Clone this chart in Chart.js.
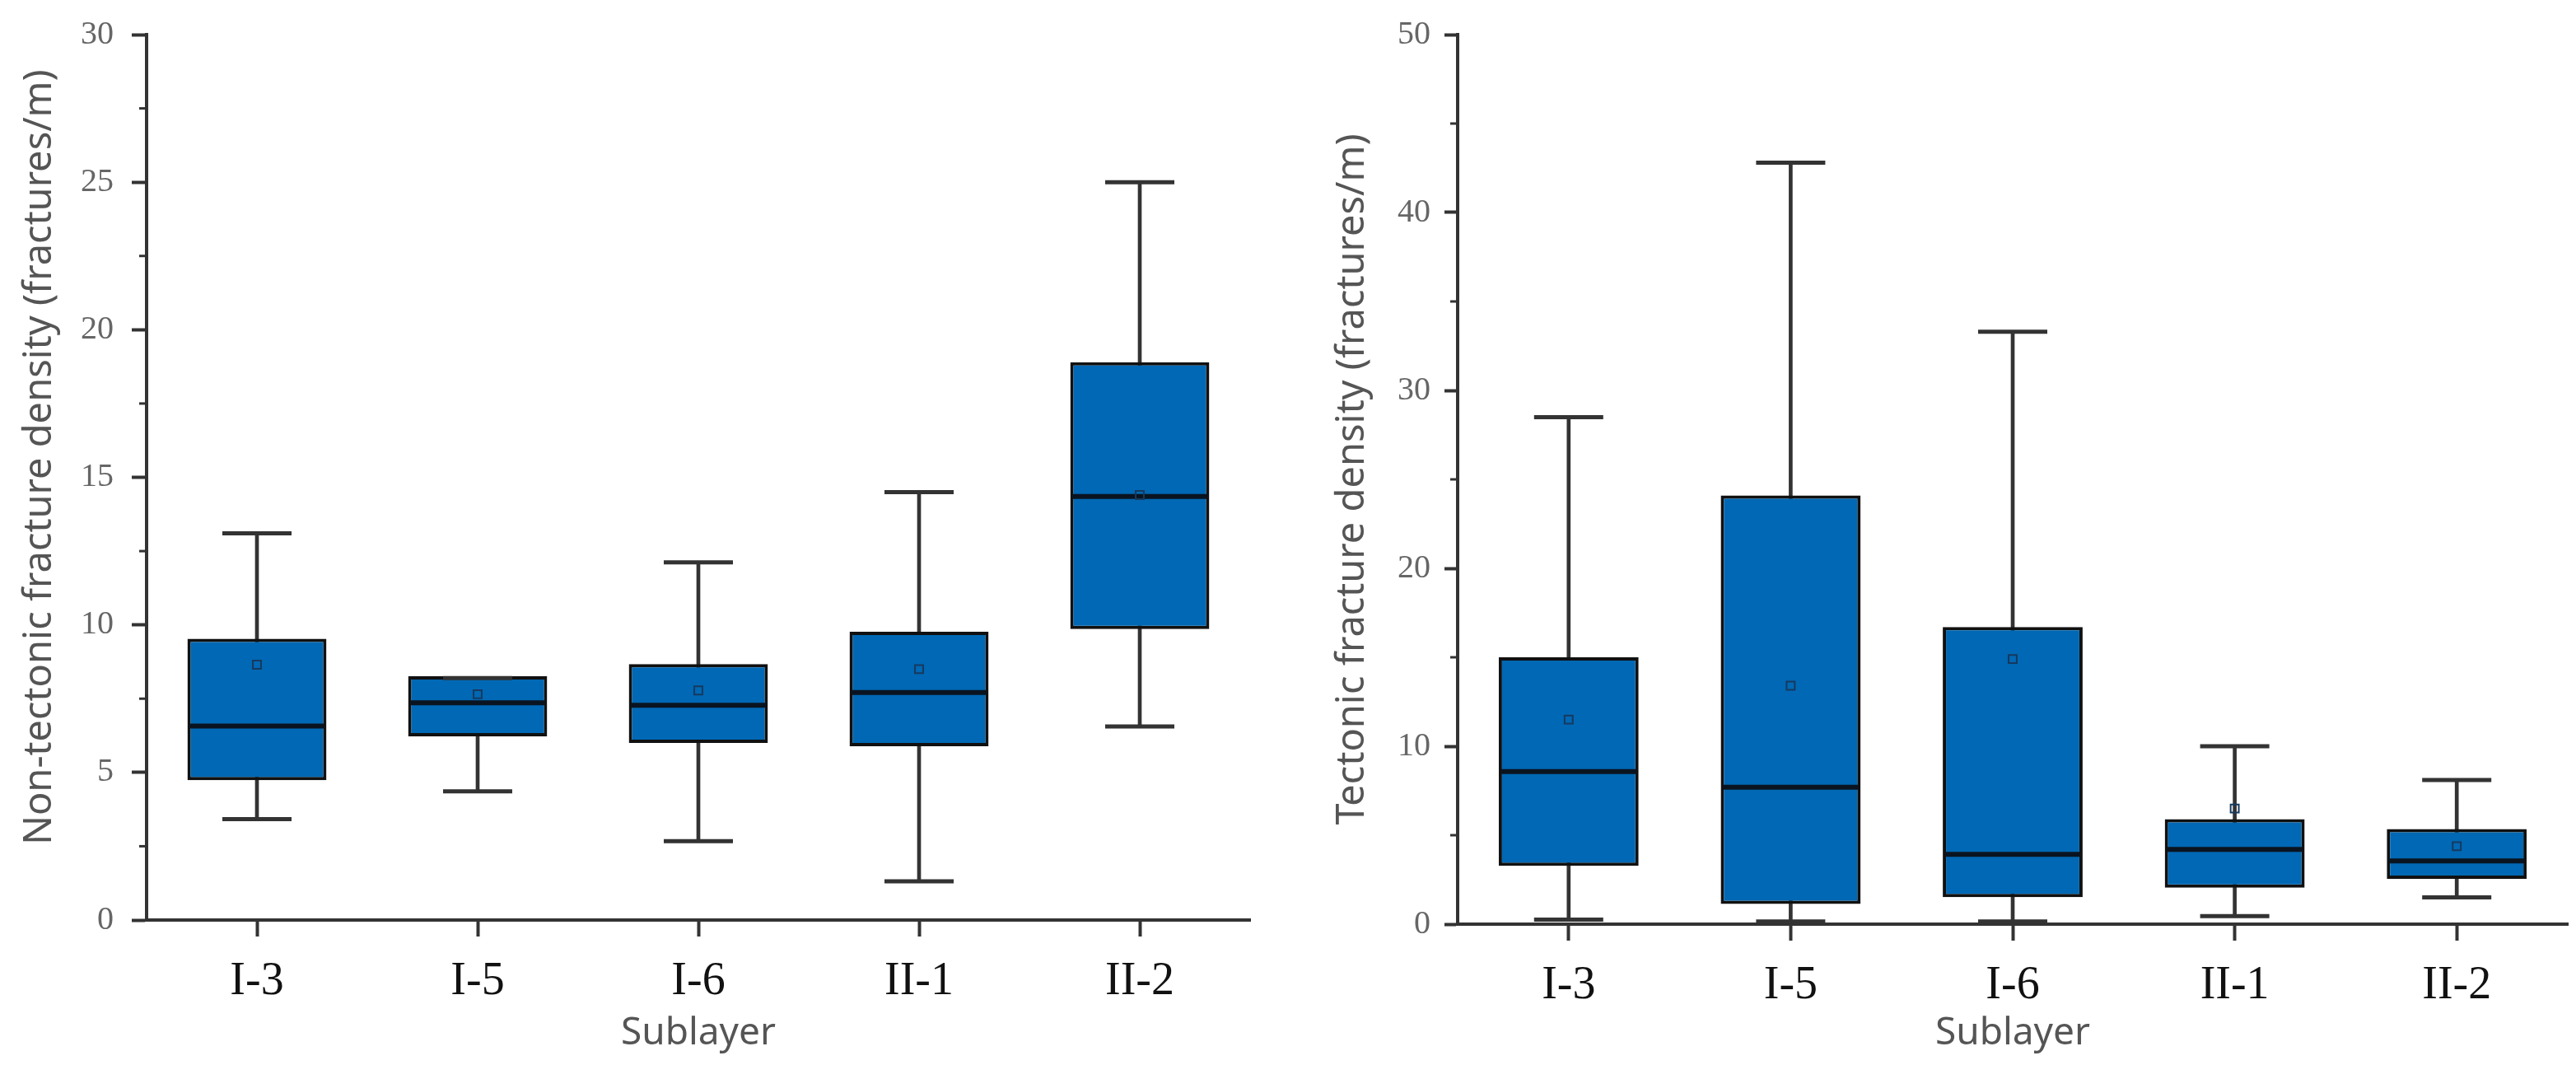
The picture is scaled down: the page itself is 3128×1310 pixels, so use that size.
<!DOCTYPE html>
<html>
<head>
<meta charset="utf-8">
<script src="https://cdn.jsdelivr.net/npm/chart.js@4.4.1/dist/chart.umd.min.js"></script>
<style>
  html, body { margin: 0; padding: 0; background: #fff; }
  .wrap { position: absolute; top: 0; height: 1310px; }
</style>
</head>
<body>
<div class="wrap" style="left:0;width:1560px"><canvas id="leftChart" width="1560" height="1310"></canvas></div>
<div class="wrap" style="left:1560px;width:1568px"><canvas id="rightChart" width="1568" height="1310"></canvas></div>
<script>
const sublayers = ['I-3', 'I-5', 'I-6', 'II-1', 'II-2'];

// non-tectonic fracture density (fractures/m)
const ntMin    = [3.42, 4.36, 2.67, 1.31, 6.56];
const ntQ1     = [4.74, 6.22, 6.0, 5.89, 9.86];
const ntMedian = [6.57, 7.36, 7.28, 7.71, 14.35];
const ntQ3     = [9.53, 8.26, 8.67, 9.77, 18.9];
const ntMax    = [13.1, 8.2, 12.12, 14.5, 25.0];
const ntMean   = [8.65, 7.65, 7.78, 8.5, 14.4];

// tectonic fracture density (fractures/m)
const tMin    = [0.25, 0.15, 0.15, 0.45, 1.5];
const tQ1     = [3.28, 1.13, 1.52, 2.05, 2.55];
const tMedian = [8.58, 7.7, 3.92, 4.2, 3.55];
const tQ3     = [15.0, 24.1, 16.7, 5.9, 5.35];
const tMax    = [28.5, 42.8, 33.3, 10.0, 8.1];
const tMean   = [11.5, 13.4, 14.9, 6.5, 4.38];

const boxBlue = '#0068b4';
const ink = '#333';

// short minor ticks on the y axis
const minorTicks = {
  id: 'minorTicks',
  afterDraw(chart, args, opts) {
    const y = chart.scales.y;
    const ctx = chart.ctx;
    ctx.save();
    ctx.strokeStyle = ink;
    ctx.lineWidth = 3;
    for (let v = opts.step / 2; v < y.max; v += opts.step) {
      const py = y.getPixelForValue(v);
      ctx.beginPath();
      ctx.moveTo(y.right, py);
      ctx.lineTo(y.right - 9, py);
      ctx.stroke();
    }
    ctx.restore();
  }
};

function boxChart(id, s) {
  const pair = (a, b) => a.map((v, i) => [v, b[i]]);
  return new Chart(document.getElementById(id), {
    type: 'bar',
    data: {
      labels: sublayers,
      datasets: [
        {
          data: pair(s.min, s.max), grouped: false, order: 6,
          barThickness: 4, backgroundColor: ink
        },
        {
          data: pair(s.q1, s.q3), grouped: false, order: 5,
          barPercentage: 0.63, categoryPercentage: 1,
          backgroundColor: boxBlue, borderColor: '#111', borderWidth: 4, borderSkipped: false
        },
        {
          type: 'line', data: s.min, showLine: false, order: 3,
          pointStyle: 'line', pointRadius: 42, pointBorderWidth: 5, pointBorderColor: ink
        },
        {
          type: 'line', data: s.max, showLine: false, order: 3,
          pointStyle: 'line', pointRadius: 42, pointBorderWidth: 5, pointBorderColor: ink
        },
        {
          type: 'line', data: s.median, showLine: false, order: 2,
          pointStyle: 'line', pointRadius: 82, pointBorderWidth: 6, pointBorderColor: '#0a1420'
        },
        {
          type: 'line', data: s.mean, showLine: false, order: 1,
          pointStyle: 'rect', pointRadius: 7, pointBorderWidth: 2,
          pointBorderColor: '#16395e', pointBackgroundColor: 'rgba(0,0,0,0)'
        }
      ]
    },
    options: {
      responsive: false,
      devicePixelRatio: 1,
      animation: false,
      events: [],
      layout: { autoPadding: false, padding: { top: 42, right: s.padRight, bottom: 0, left: 0 } },
      plugins: {
        legend: { display: false },
        tooltip: { enabled: false },
        minorTicks: { step: s.step }
      },
      scales: {
        x: {
          type: 'category',
          offset: true,
          afterFit: (sc) => { sc.height = s.xHeight; },
          grid: { offset: false, drawOnChartArea: false, tickLength: 20, tickWidth: 4, tickColor: ink },
          border: { display: true, width: 4, color: ink },
          ticks: { padding: 22, color: '#111', font: { family: 'Liberation Serif', size: 56 } },
          title: {
            display: true, text: 'Sublayer', color: '#555',
            font: { family: 'Noto Sans', size: 46, lineHeight: 1.2 },
            padding: { top: 0, bottom: 28 }
          }
        },
        y: {
          min: 0, max: s.max_,
          afterFit: (sc) => { sc.width = s.yWidth; },
          grid: { drawOnChartArea: false, tickLength: s.tickLen, tickWidth: 4, tickColor: ink },
          border: { display: true, width: 4, color: ink },
          ticks: {
            stepSize: s.step, padding: s.tickPad, color: '#666',
            font: { family: 'Liberation Serif', size: 40, lineHeight: 1 }
          },
          title: {
            display: true, text: s.title, color: '#555',
            font: { family: 'Noto Sans', size: 47, lineHeight: 1.2 },
            padding: { top: s.titlePad, bottom: 0 }
          }
        }
      }
    },
    plugins: [minorTicks]
  });
}

boxChart('leftChart', {
  min: ntMin, q1: ntQ1, median: ntMedian, q3: ntQ3, max: ntMax, mean: ntMean,
  max_: 30, step: 5, title: '    Non-tectonic fracture density (fractures/m)',
  yWidth: 178, xHeight: 193, padRight: 42, tickLen: 18, tickPad: 22, titlePad: 20
});

boxChart('rightChart', {
  min: tMin, q1: tQ1, median: tMedian, q3: tQ3, max: tMax, mean: tMean,
  max_: 50, step: 10, title: 'Tectonic fracture density (fractures/m)',
  yWidth: 210, xHeight: 188, padRight: 10, tickLen: 16, tickPad: 17, titlePad: 54
});
</script>
</body>
</html>
